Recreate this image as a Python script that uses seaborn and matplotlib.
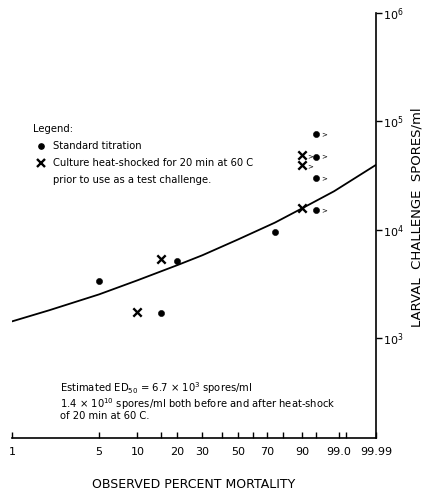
import numpy as np
import pandas as pd
import matplotlib
matplotlib.use("Agg")
import matplotlib.pyplot as plt
import seaborn as sns
from matplotlib.ticker import FixedLocator, FixedFormatter, NullLocator
from matplotlib.lines import Line2D

# ---------------------------------------------------------------
# data (percent mortality vs spores/ml)
# ---------------------------------------------------------------
dot_pct = [5, 15, 20, 75, 95, 95, 95, 95]
dot_spores = [3360, 1700, 5160, 9500, 15100, 30000, 47000, 76000]
dot_greater = [False, False, False, False, True, True, True, True]

x_pct = [10, 15, 90, 90, 90]
x_spores = [1720, 5360, 15700, 39800, 49000]
x_greater = [False, False, False, True, True]

curve_pct = [1, 2, 5, 10, 20, 30, 50, 75, 90, 98.5, 99.99]
curve_spores = [1420, 1800, 2520, 3400, 4700, 5800, 8100, 11600, 15700, 22600, 39600]

xtick_pos = [1, 5, 10, 15, 20, 30, 40, 50, 60, 70, 80, 90, 95, 99, 99.5, 99.99]
xlabel_pos = [1, 5, 10, 20, 30, 50, 70, 90, 99, 99.99]
xlabel_txt = ["1", "5", "10", "20", "30", "50", "70", "90", "99.0", "99.99"]
ytick_pos = [1e3, 1e4, 1e5, 1e6]


def weibull(p):
    p = np.clip(np.asarray(p, dtype=float), 1e-6, 100 - 1e-9)
    return np.log(-np.log(1 - p / 100.0))


def weibull_inv(w):
    return 100.0 * (1 - np.exp(-np.exp(np.asarray(w, dtype=float))))


sns.set_theme(style="white", rc={"text.color": "black",
                                 "axes.labelcolor": "black",
                                 "xtick.color": "black",
                                 "ytick.color": "black"})
plt.rcParams["font.family"] = ["DejaVu Sans"]

fig = plt.figure(figsize=(4.36, 4.90), dpi=100)
ax = fig.add_axes([12 / 436, 1 - 438 / 490, 364 / 436, 425 / 490])

ax.set_xscale("function", functions=(weibull, weibull_inv))
ax.set_yscale("log")

df_dot = pd.DataFrame({"pct": dot_pct, "spores": dot_spores})
df_x = pd.DataFrame({"pct": x_pct, "spores": x_spores})
df_curve = pd.DataFrame({"pct": curve_pct, "spores": curve_spores})

sns.lineplot(data=df_curve, x="pct", y="spores", sort=False, color="black",
             linewidth=1.3, ax=ax)
sns.scatterplot(data=df_dot, x="pct", y="spores", color="black", s=20,
                marker="o", edgecolor="black", ax=ax)
sns.scatterplot(data=df_x, x="pct", y="spores", color="black", s=36,
                marker="x", linewidth=1.7, ax=ax)

# small ">" marks beside the censored values
for p, v, g in zip(dot_pct, dot_spores, dot_greater):
    if g:
        ax.annotate(">", (p, v), xytext=(4, 0), textcoords="offset points",
                    fontsize=5, va="center", ha="left")
for p, v, g in zip(x_pct, x_spores, x_greater):
    if g:
        ax.annotate(">", (p, v), xytext=(4, -1), textcoords="offset points",
                    fontsize=5, va="center", ha="left")

ax.set_xlim(1, 99.99)
ax.set_ylim(119, 1e6)

# axes styling: only bottom and right spines
for side in ["left", "top"]:
    ax.spines[side].set_visible(False)
for side in ["bottom", "right"]:
    ax.spines[side].set_color("black")
    ax.spines[side].set_linewidth(1.2)

ax.xaxis.set_major_locator(FixedLocator(xtick_pos))
ax.xaxis.set_major_formatter(FixedFormatter([""] * len(xtick_pos)))
ax.xaxis.set_minor_locator(NullLocator())
ax.tick_params(axis="x", direction="in", length=4, width=1, colors="black",
               bottom=True)
for p, t in zip(xlabel_pos, xlabel_txt):
    ax.annotate(t, (p, 0), xycoords=("data", "axes fraction"),
                xytext=(0, -6.5), textcoords="offset points",
                ha="center", va="top", fontsize=8)

ax.yaxis.tick_right()
ax.yaxis.set_major_locator(FixedLocator(ytick_pos))
ax.yaxis.set_minor_locator(NullLocator())
ax.yaxis.set_major_formatter(FixedFormatter([r"$10^{3}$", r"$10^{4}$",
                                             r"$10^{5}$", r"$10^{6}$"]))
ax.tick_params(axis="y", direction="out", length=4, width=1, colors="black",
               labelsize=8, right=True, left=False, pad=1)

ax.set_xlabel("OBSERVED PERCENT MORTALITY", fontsize=9, labelpad=25)
ax.set_ylabel("LARVAL  CHALLENGE  SPORES/ml", fontsize=9.5, rotation=90)
ax.yaxis.set_label_position("right")
ax.yaxis.set_label_coords(1.095, 0.52)

# legend block
handles = [
    Line2D([], [], marker="o", color="black", linestyle="none", markersize=3.8),
    Line2D([], [], marker="x", color="black", linestyle="none", markersize=5.5,
           markeredgewidth=1.7),
    Line2D([], [], linestyle="none"),
]
labels = ["Standard titration",
          "Culture heat-shocked for 20 min at 60 C",
          "prior to use as a test challenge."]
leg = ax.legend(handles, labels, title="Legend:", loc="upper left",
                bbox_to_anchor=(0.045, 0.75), frameon=False, fontsize=7.2,
                title_fontsize=7.2, alignment="left", handlelength=1.6,
                handletextpad=0.35, labelspacing=0.7, borderpad=0)

ax.text(0.132, 0.135,
        "Estimated ED$_{50}$ = 6.7 × 10$^{3}$ spores/ml\n"
        "1.4 × 10$^{10}$ spores/ml both before and after heat-shock\n"
        "of 20 min at 60 C.",
        transform=ax.transAxes, fontsize=7.2, va="top", ha="left",
        linespacing=0.95)

fig.savefig("out.png", dpi=100)
